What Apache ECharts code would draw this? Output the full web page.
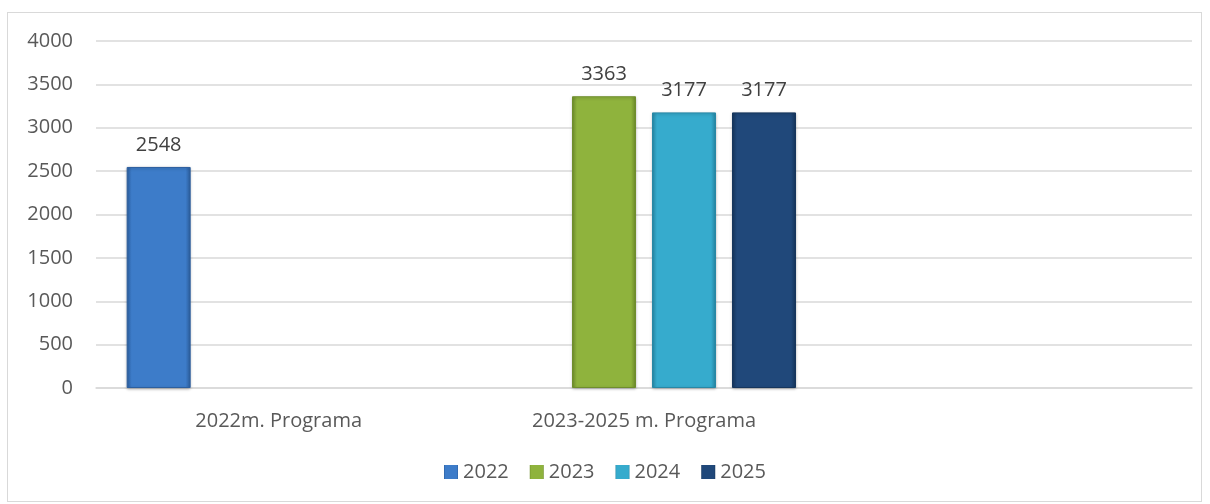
<!DOCTYPE html>
<html>
<head>
<meta charset="utf-8">
<script src="https://cdn.jsdelivr.net/npm/echarts@6/dist/echarts.min.js"></script>
<style>
  html, body { margin: 0; padding: 0; background: #fff; }
  #frame { position: absolute; left: 7px; top: 12px; width: 1195px; height: 490px; border: 1px solid #d9d9d9; box-sizing: border-box; }
  #chart { width: 1210px; height: 504px; }
</style>
</head>
<body>
<div id="frame"></div>
<div id="chart"></div>
<script>
(function () {
    'use strict';

    var categories = ['2022m. Programa', '2023-2025 m. Programa', ''];
    var seriesNames = ['2022', '2023', '2024', '2025'];
    var values2022 = [2548, null, null];
    var values2023 = [null, 3363, null];
    var values2024 = [null, 3177, null];
    var values2025 = [null, 3177, null];
    var yTicks = [0, 500, 1000, 1500, 2000, 2500, 3000, 3500, 4000];

    // colores por serie: [claro, base, oscuro]
    var COLORS = [
        ['#5b98e0', '#3d7cc9', '#2c5f9f'],
        ['#b0d45a', '#8fb33d', '#6f8e2c'],
        ['#5ccbe8', '#36abcd', '#2788a6'],
        ['#34639c', '#20487a', '#16365d']
    ];
    var FONT = '"Open Sans", "Noto Sans", sans-serif';
    var FS = 20;

    function gradient(c) {
        return new echarts.graphic.LinearGradient(0, 0, 1, 0, [
            { offset: 0, color: c[2] },
            { offset: 0.08, color: c[1] },
            { offset: 0.92, color: c[1] },
            { offset: 1, color: c[2] }
        ]);
    }

    var allValues = [values2022, values2023, values2024, values2025];

    var chart = echarts.init(document.getElementById('chart'), null, { renderer: 'canvas' });

    var series = seriesNames.map(function (name, i) {
        return {
            name: name,
            type: 'bar',
            data: allValues[i],
            barWidth: 64,
            barGap: '25%',
            itemStyle: {
                color: gradient(COLORS[i]),
                borderColor: COLORS[i][2],
                borderWidth: 1,
                shadowColor: 'rgba(0,0,0,0.25)',
                shadowBlur: 3,
                shadowOffsetY: 1
            },
            label: {
                show: true,
                position: 'top',
                distance: 12,
                color: '#404040',
                fontFamily: FONT,
                fontSize: FS
            }
        };
    });

    chart.setOption({
        animation: false,
        backgroundColor: 'transparent',
        color: COLORS.map(function (c) { return c[1]; }),
        grid: { left: 96, right: 18, top: 41, bottom: 116 },
        legend: {
            bottom: 17,
            left: 'center',
            itemWidth: 14,
            itemHeight: 14,
            itemGap: 21,
            itemStyle: { borderWidth: 0 },
            icon: 'rect',
            textStyle: { color: '#595959', fontFamily: FONT, fontSize: FS },
            data: seriesNames
        },
        xAxis: {
            type: 'category',
            data: categories,
            axisLine: { lineStyle: { color: '#d9d9d9', width: 1.5 } },
            axisTick: { show: false },
            axisLabel: { color: '#595959', fontFamily: FONT, fontSize: FS, margin: 23 }
        },
        yAxis: {
            type: 'value',
            min: yTicks[0],
            max: yTicks[yTicks.length - 1],
            interval: 500,
            axisLine: { show: false },
            axisTick: { show: false },
            axisLabel: {
                color: '#595959', fontFamily: FONT, fontSize: FS, margin: 23,
                formatter: function (v) { return String(v); }
            },
            splitLine: { lineStyle: { color: '#d9d9d9', width: 1.5 } }
        },
        series: series
    });

    window.addEventListener('resize', function () { chart.resize(); });
})();
</script>
</body>
</html>
